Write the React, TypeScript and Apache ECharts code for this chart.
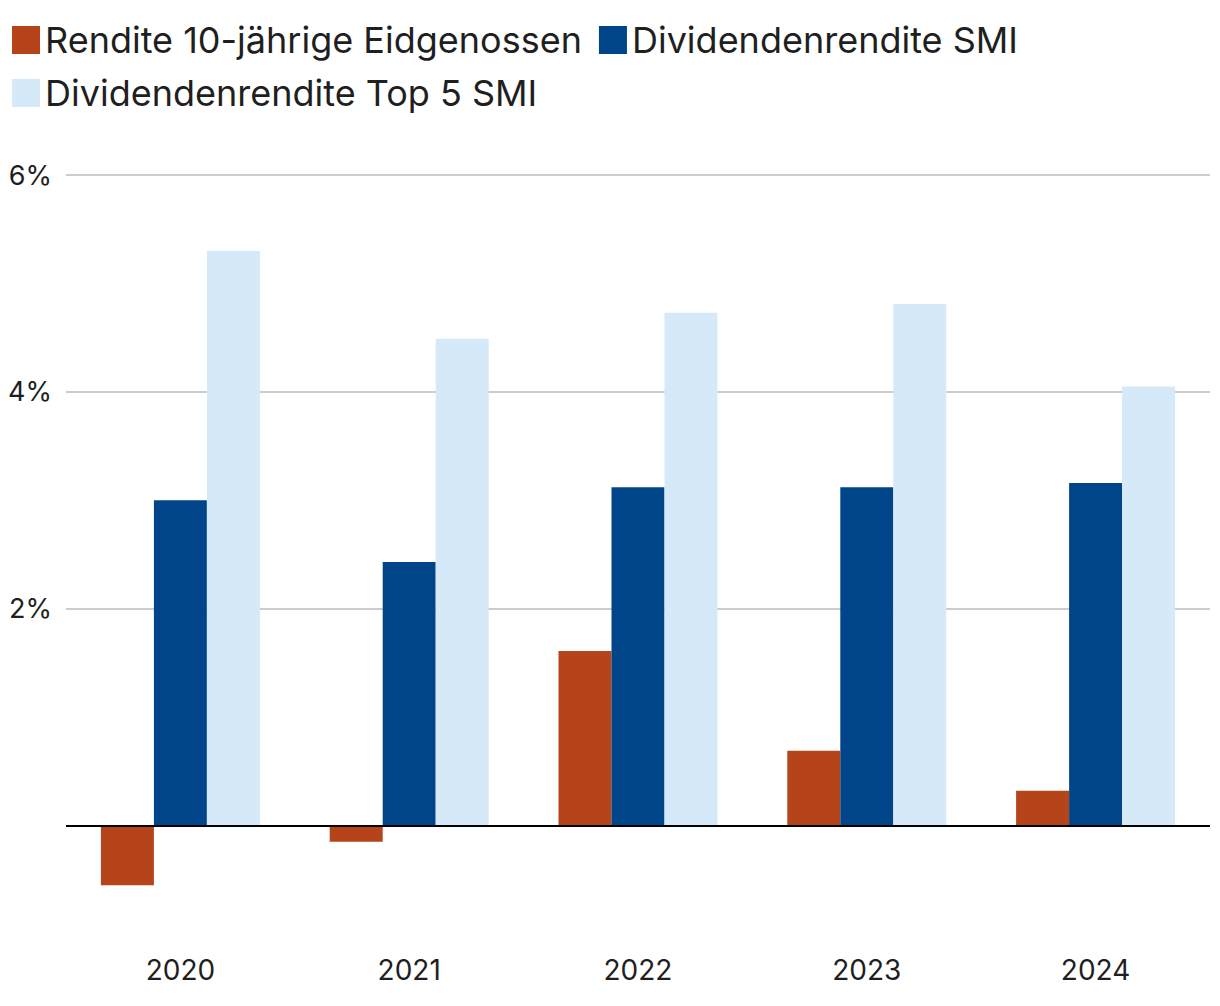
import React, { useEffect, useRef } from "react";
import * as echarts from "echarts";

const categories = ["2020", "2021", "2022", "2023", "2024"];
const seriesNames = [
  "Rendite 10-jährige Eidgenossen",
  "Dividendenrendite SMI",
  "Dividendenrendite Top 5 SMI",
];
const bondYield = [-0.55, -0.15, 1.61, 0.69, 0.32];
const smiYield = [3.0, 2.43, 3.12, 3.12, 3.16];
const top5Yield = [5.3, 4.49, 4.73, 4.81, 4.05];
const gridValues = [2, 4, 6];
const colors = ["#B5441A", "#00458A", "#D6E9F8"];

export default function App() {
  const ref = useRef<HTMLDivElement>(null);
  useEffect(() => {
    document.body.style.margin = "0";
    const chart = echarts.init(ref.current!, null, { renderer: "svg" });
    const font = "Inter";
    chart.setOption({
      animation: false,
      color: colors,
      textStyle: { fontFamily: font },
      legend: {
        left: 12,
        top: 22,
        padding: 0,
        width: 1100,
        icon: "rect",
        itemWidth: 28,
        itemHeight: 28,
        itemGap: 17,
        textStyle: {
          fontFamily: font,
          fontSize: 36,
          color: "#1f1f1f",
          padding: [0, 5, 0, 0],
        },
        data: seriesNames,
      },
      grid: { left: 66, right: 10, top: 175, bottom: 72, containLabel: false },
      xAxis: {
        type: "category",
        data: categories,
        axisLine: { show: false, onZero: false },
        axisTick: { show: false },
        axisLabel: { fontFamily: font, fontSize: 28, color: "#1f1f1f", margin: 22 },
      },
      yAxis: {
        type: "value",
        min: -1,
        max: 6,
        interval: 1,
        splitLine: { show: false },
        axisLine: { show: false },
        axisTick: { show: false },
        axisLabel: {
          fontFamily: font,
          fontSize: 27,
          color: "#1f1f1f",
          margin: 14,
          formatter: (v: number) => (v > 0 && v % 2 === 0 ? v + "%" : ""),
        },
      },
      series: [
        {
          name: seriesNames[0],
          type: "bar",
          data: bondYield,
          barWidth: 53,
          barGap: "0%",
          z: 3,
          markLine: {
            silent: true,
            symbol: "none",
            label: { show: false },
            z: 1,
            lineStyle: { color: "#cccccc", width: 2, type: "solid" },
            data: gridValues.map((v) => ({ yAxis: v })),
          },
        },
        {
          name: seriesNames[1],
          type: "bar",
          data: smiYield,
          barWidth: 53,
          barGap: "0%",
          z: 3,
        },
        {
          name: seriesNames[2],
          type: "bar",
          data: top5Yield,
          barWidth: 53,
          barGap: "0%",
          z: 3,
          markLine: {
            silent: true,
            symbol: "none",
            label: { show: false },
            z: 5,
            lineStyle: { color: "#000000", width: 2, type: "solid" },
            data: [{ yAxis: 0 }],
          },
        },
      ],
    });
    return () => chart.dispose();
  }, []);
  return <div ref={ref} style={{ width: 1220, height: 1006 }} />;
}
